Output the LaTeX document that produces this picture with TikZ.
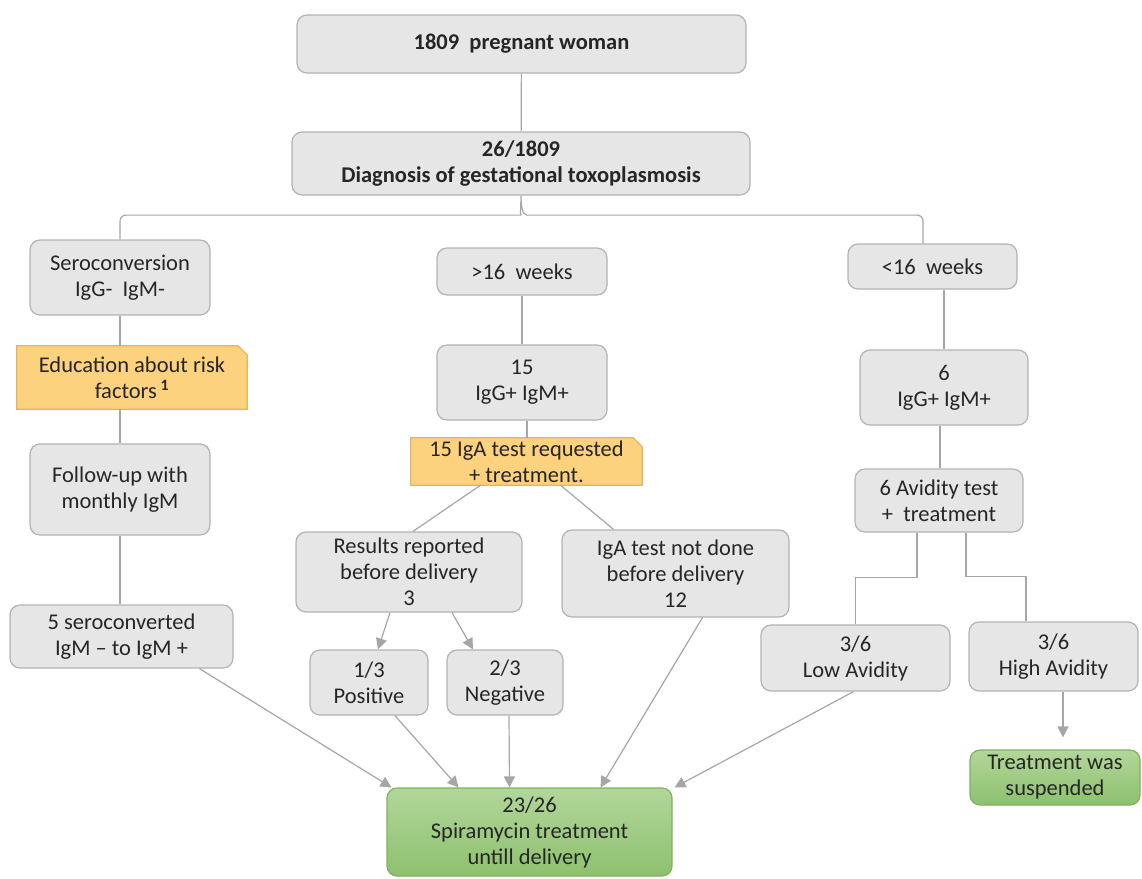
\documentclass[tikz,border=0pt]{standalone}
\usepackage{fontspec}
\setmainfont{Carlito}
\usetikzlibrary{arrows.meta,calc,backgrounds}
\definecolor{gfill}{HTML}{E6E6E6}
\definecolor{gline}{HTML}{B3B3B3}
\definecolor{ofill}{HTML}{FDD27F}
\definecolor{oline}{HTML}{E2B561}
\definecolor{grtop}{HTML}{B2D69A}
\definecolor{grbot}{HTML}{8DC16E}
\definecolor{grline}{HTML}{7EB25E}
\definecolor{cline}{HTML}{A6A6A6}
\definecolor{txt}{HTML}{262626}
\begin{document}
\begin{tikzpicture}[x=1pt,y=-1pt,
  every node/.style={font=\fontsize{22.5}{26}\selectfont, text=txt, align=center, inner sep=0pt},
  gbox/.style={draw=gline, fill=gfill, line width=1.2pt, rounded corners=10pt},
  grbox/.style={draw=grline, top color=grtop, bottom color=grbot, line width=1.2pt, rounded corners=10pt},
  onote/.style={},
  conn/.style={draw=cline, line width=1.2pt},
  arr/.style={conn, -{Triangle[length=11pt,width=11pt]}, cline}]
\useasboundingbox (0,0) rectangle (1142,878);

% nodes
\node[gbox, minimum width=449pt, minimum height=58pt] (top) at (521.5,44) {\bfseries 1809~ pregnant woman};
\node[gbox, minimum width=458pt, minimum height=63pt] (diag) at (521,163.5) {\bfseries 26/1809\\\bfseries Diagnosis of gestational toxoplasmosis};

\node[gbox, minimum width=180pt, minimum height=75pt] (sero) at (120,277.5) {Seroconversion\\IgG-~~IgM-};
\node[onote, minimum width=230pt, minimum height=63pt] (edu) at (132,377.5) {Education about risk\\factors\,\textsuperscript{\bfseries 1}};
\node[gbox, minimum width=180pt, minimum height=91pt] (follow) at (120,489.5) {Follow-up with\\monthly IgM};
\node[gbox, minimum width=223pt, minimum height=63pt] (five) at (121.5,636.5) {5 seroconverted\\IgM -- to IgM +};

\node[gbox, minimum width=170pt, minimum height=47pt] (gt16) at (522,271.5) {>16~ weeks};
\node[gbox, minimum width=170pt, minimum height=75pt] (fif) at (522,382.5) {15\\IgG+ IgM+};
\node[onote, minimum width=231pt, minimum height=47pt] (iga) at (526.5,461.5) {15 IgA test requested\\+ treatment.};
\node[gbox, minimum width=226pt, minimum height=80pt] (res) at (409,572) {Results reported\\before delivery\\3};
\node[gbox, minimum width=227pt, minimum height=87pt] (notdone) at (675.5,573.5) {IgA test not done\\before delivery\\12};
\node[gbox, minimum width=118pt, minimum height=65pt] (pos) at (369,682.5) {1/3\\Positive};
\node[gbox, minimum width=116pt, minimum height=65pt] (neg) at (505,682.5) {2/3\\Negative};
\node[grbox, minimum width=285pt, minimum height=88pt] (spira) at (529.5,832) {23/26\\Spiramycin treatment\\untill delivery};

\node[gbox, minimum width=169pt, minimum height=45pt] (lt16) at (932.5,266.5) {<16~ weeks};
\node[gbox, minimum width=168pt, minimum height=75pt] (six) at (944,387.5) {6\\IgG+ IgM+};
\node[gbox, minimum width=168pt, minimum height=63pt] (avid) at (939,500.5) {6 Avidity test\\+~ treatment};
\node[gbox, minimum width=189pt, minimum height=66pt] (low) at (855.5,658) {3/6\\Low Avidity};
\node[gbox, minimum width=169pt, minimum height=69pt] (high) at (1053.5,656.5) {3/6\\High Avidity};
\node[grbox, minimum width=170pt, minimum height=55pt] (susp) at (1055,777.5) {Treatment was\\suspended};

% note shapes with folded corner
\begin{scope}[on background layer]
\foreach \n in {edu,iga}{
  \draw[draw=oline, fill=ofill, line width=1.2pt]
    (\n.south west) -- (\n.north west) -- ($(\n.north east)+(-9,0)$)
    -- ($(\n.north east)+(0,9)$) -- (\n.south east) -- cycle;
}
\end{scope}

% connectors
\draw[conn] (top) -- (diag);
\draw[conn] (sero.north) [rounded corners=6] |- ($(diag.south)+(-6,19.5)$) [sharp corners]
  .. controls ($(diag.south)+(-1,19.5)$) and ($(diag.south)+(0,9)$) .. (diag.south)
  .. controls ($(diag.south)+(0,9)$) and ($(diag.south)+(1,19.5)$) .. ($(diag.south)+(6,19.5)$)
  [rounded corners=6] -| ([xshift=-9.5pt]lt16.north);

\draw[conn] (sero.south) -- (sero.south |- edu.north);
\draw[conn] (follow.north |- edu.south) -- (follow.north);
\draw[conn] (follow.south) -- (follow.south |- five.north);

\draw[conn] (gt16) -- (fif);
\draw[conn] ([xshift=5pt]fif.south) -- ([xshift=5pt]fif.south |- iga.north);
\draw[conn] ([xshift=-46pt]iga.south) -- ([xshift=4pt]res.north);
\draw[conn] ([xshift=34pt]iga.south) -- ([xshift=-62pt]notdone.north);
\draw[arr] ([xshift=-19pt]res.south) -- ([xshift=9pt]pos.north);
\draw[arr] ([xshift=43pt]res.south) -- ([xshift=-32pt]neg.north);

\draw[arr] ([xshift=78pt]five.south) -- ([xshift=-138pt]spira.north);
\draw[arr] ([xshift=26pt]pos.south) -- ([xshift=-71pt]spira.north);
\draw[arr] ([xshift=4pt]neg.south) -- ([xshift=-20pt]spira.north);
\draw[arr] ([xshift=27pt]notdone.south) -- ([xshift=71pt]spira.north);
\draw[arr] ([xshift=-2pt]low.south) -- ([xshift=145pt]spira.north);

\draw[conn] (six.north |- lt16.south) -- (six.north);
\draw[conn] ([xshift=-4pt]six.south) -- ([xshift=-4pt]six.south |- avid.north);
\draw[conn] ([xshift=-22pt]avid.south) -- ++(0,45) -| (low.north);
\draw[conn] ([xshift=27pt]avid.south) -- ++(0,44) -| ([xshift=-27.5pt]high.north);
\draw[arr, shorten >=12pt] ([xshift=9.5pt]high.south) -- ([xshift=9.5pt]high.south |- susp.north);
\end{tikzpicture}
\end{document}
